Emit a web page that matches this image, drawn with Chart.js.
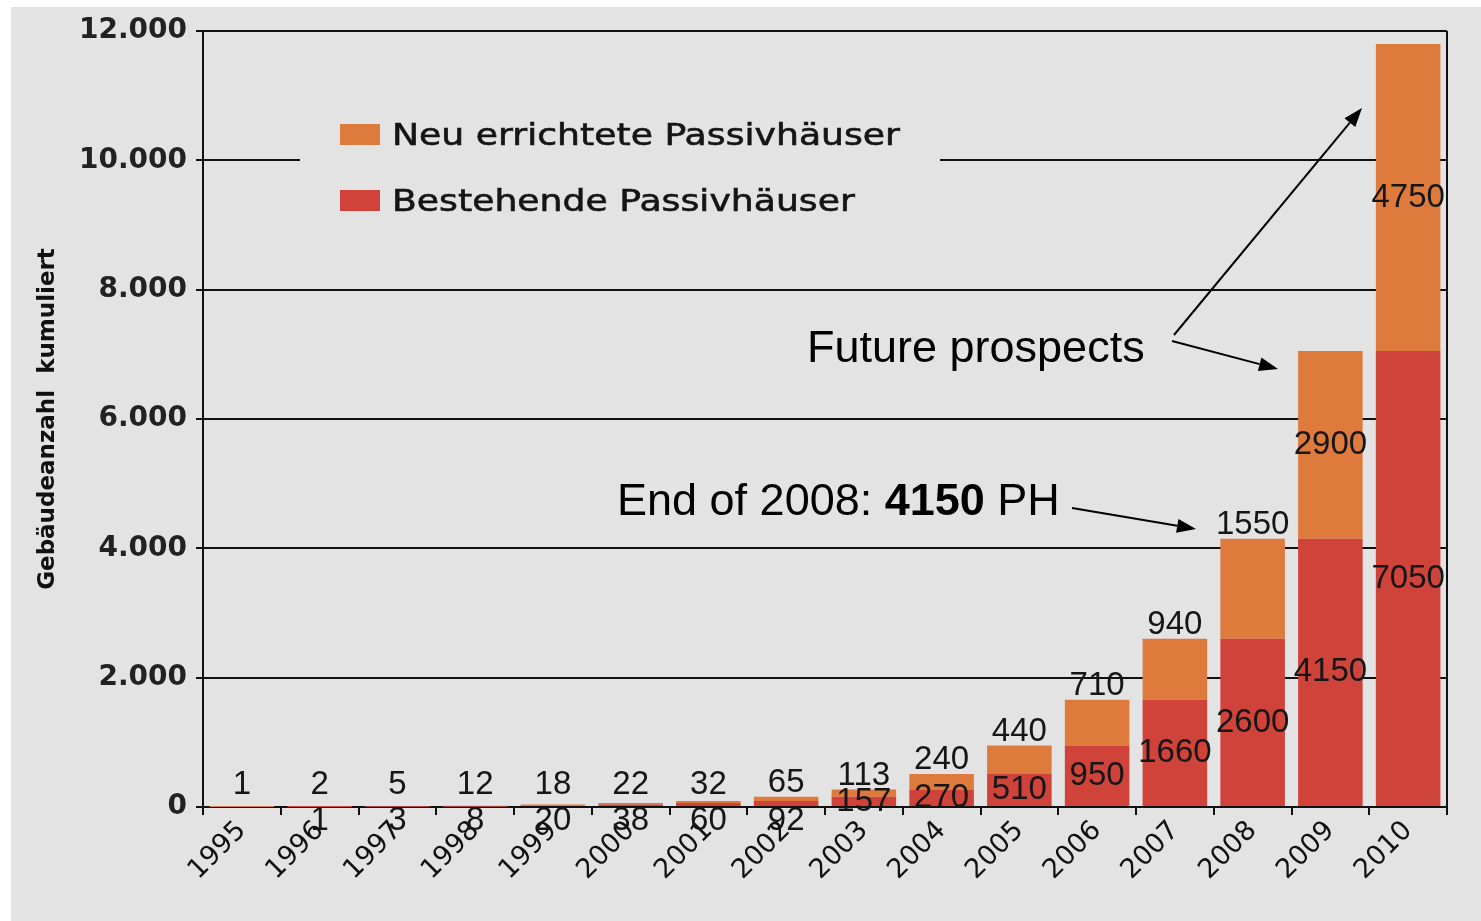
<!DOCTYPE html>
<html><head><meta charset="utf-8">
<script src="https://cdn.jsdelivr.net/npm/chart.js@4.4.1/dist/chart.umd.min.js"></script>
<style>html,body{margin:0;padding:0;background:#fff;overflow:hidden}canvas{display:block}</style>
</head><body>
<canvas id="c" width="1481" height="921"></canvas>
<script>
// ---- data ----
const years = ['1995','1996','1997','1998','1999','2000','2001','2002','2003','2004','2005','2006','2007','2008','2009','2010'];
const existingHouses = [0,1,3,8,20,38,60,92,157,270,510,950,1660,2600,4150,7050];
const newHouses = [1,2,5,12,18,22,32,65,113,240,440,710,940,1550,2900,4750];
const yTickValues = [0,2000,4000,6000,8000,10000,12000];
const seriesNames = ['Bestehende Passivhäuser','Neu errichtete Passivhäuser'];
const yTitle = 'Gebäudeanzahl  kumuliert';

const RED = '#CF433A';
const ORANGE = '#DE7A3B';
const BG = '#E3E3E3';
const INK = '#111111';

function fmt(v){ return String(v).replace(/\B(?=(\d{3})+(?!\d))/g,'.'); }

const bgPlugin = {
  id:'bg',
  beforeDraw(chart){
    const c = chart.ctx;
    c.save();
    c.fillStyle = '#ffffff';
    c.fillRect(0,0,chart.width,chart.height);
    c.fillStyle = BG;
    c.fillRect(11,7,chart.width-11,chart.height-7);
    c.restore();
  }
};

function stretchedText(c, text, x, y, sx){
  c.save();
  c.translate(x,y);
  c.scale(sx,1);
  c.fillText(text,0,0);
  c.lineWidth = 0.6;
  c.strokeText(text,0,0);
  c.restore();
}

const legendPlugin = {
  id:'customLegend',
  beforeDatasetsDraw(chart){
    const c = chart.ctx;
    c.save();
    c.fillStyle = BG;
    c.fillRect(300,100,640,125);
    c.font = '30px "DejaVu Sans", sans-serif';
    c.textBaseline = 'alphabetic';
    c.textAlign = 'left';
    const w = c.measureText(seriesNames[1]).width;
    const sx = 508 / w;
    c.strokeStyle = '#151515';
    c.fillStyle = ORANGE;
    c.fillRect(340,124,40,21);
    c.fillStyle = '#151515';
    stretchedText(c, seriesNames[1], 392, 145, sx);
    c.fillStyle = RED;
    c.fillRect(340,190,40,21);
    c.fillStyle = '#151515';
    stretchedText(c, seriesNames[0], 392, 211, sx);
    c.restore();
  }
};

const labelPlugin = {
  id:'valueLabels',
  afterDatasetsDraw(chart){
    const c = chart.ctx;
    const m0 = chart.getDatasetMeta(0);
    const m1 = chart.getDatasetMeta(1);
    const zeroY = chart.scales.y.getPixelForValue(0);
    c.save();
    c.font = '33px "Liberation Sans", Arial, sans-serif';
    c.fillStyle = '#161616';
    c.textAlign = 'center';
    c.textBaseline = 'middle';
    for (let i=0;i<years.length;i++){
      const b0 = m0.data[i], b1 = m1.data[i];
      if (existingHouses[i] > 0){
        const h = b0.base - b0.y;
        const y = h >= 5 ? (b0.y + b0.base)/2 : zeroY + 14;
        c.fillText(String(existingHouses[i]), b0.x, y);
      }
      const h1 = b1.base - b1.y;
      let y1;
      if (h1 > 150) y1 = (b1.y + b1.base)/2;
      else y1 = Math.min(b1.y - 14, zeroY - 22);
      c.fillText(String(newHouses[i]), b1.x, y1);
    }
    c.restore();
  }
};

function arrow(c, x1,y1,x2,y2){
  const ang = Math.atan2(y2-y1,x2-x1);
  const L = 19, W = 7;
  const bx = x2 - L*Math.cos(ang), by = y2 - L*Math.sin(ang);
  c.beginPath();
  c.moveTo(x1,y1);
  c.lineTo(bx,by);
  c.stroke();
  c.beginPath();
  c.moveTo(x2,y2);
  c.lineTo(bx + W*Math.sin(ang), by - W*Math.cos(ang));
  c.lineTo(bx - W*Math.sin(ang), by + W*Math.cos(ang));
  c.closePath();
  c.fill();
}

const annotPlugin = {
  id:'annotations',
  afterDraw(chart){
    const c = chart.ctx;
    const a = chart.chartArea;
    c.save();
    c.strokeStyle = INK;
    c.lineWidth = 2;
    c.beginPath();
    c.moveTo(a.right, a.top);
    c.lineTo(a.right, a.bottom);
    c.stroke();
    c.fillStyle = '#000';
    c.textAlign = 'left';
    c.textBaseline = 'alphabetic';
    c.font = '45px "Liberation Sans", Arial, sans-serif';
    c.fillText('Future prospects', 807, 362);
    let x = 617;
    const p1 = 'End of 2008: ';
    c.fillText(p1, x, 515);
    x += c.measureText(p1).width;
    c.font = 'bold 45px "Liberation Sans", Arial, sans-serif';
    c.fillText('4150', x, 515);
    x += c.measureText('4150').width;
    c.font = '45px "Liberation Sans", Arial, sans-serif';
    c.fillText(' PH', x, 515);
    c.strokeStyle = '#000';
    c.fillStyle = '#000';
    c.lineWidth = 2;
    arrow(c, 1174, 335, 1362, 108);
    arrow(c, 1172, 341, 1278, 369);
    arrow(c, 1072, 508, 1196, 529);
    c.restore();
  }
};

new Chart(document.getElementById('c'), {
  type:'bar',
  data:{
    labels: years,
    datasets:[
      {label: seriesNames[0], data: existingHouses, backgroundColor: RED, borderWidth:0, barPercentage:0.83, categoryPercentage:1.0},
      {label: seriesNames[1], data: newHouses, backgroundColor: ORANGE, borderWidth:0, barPercentage:0.83, categoryPercentage:1.0}
    ]
  },
  options:{
    responsive:false,
    animation:false,
    devicePixelRatio:1,
    layout:{padding:{left:11, top:31, right:34, bottom:0}},
    plugins:{legend:{display:false}, tooltip:{enabled:false}},
    scales:{
      x:{
        stacked:true,
        grid:{display:true, drawOnChartArea:false, drawTicks:true, tickLength:8, color:INK, lineWidth:2, offset:true},
        border:{display:true, color:INK, width:2},
        ticks:{color:INK, font:{family:'"DejaVu Sans", sans-serif', size:27}, maxRotation:45, minRotation:45, padding:0, autoSkip:false},
        afterFit(s){ s.height = 114; }
      },
      y:{
        stacked:true,
        min:0, max:12000,
        afterBuildTicks(s){ s.ticks = yTickValues.map(v=>({value:v})); },
        grid:{color:INK, lineWidth:2, tickLength:7, drawTicks:true},
        border:{display:true, color:INK, width:2},
        ticks:{color:'#222', font:{family:'"DejaVu Sans", sans-serif', size:28, weight:'bold'}, padding:9, callback:(v)=>fmt(v)},
        title:{display:true, text:yTitle, color:'#111', font:{family:'"DejaVu Sans", sans-serif', size:23, weight:'bold'}, padding:{top:23,bottom:0}},
        afterFit(s){ s.width = 192; }
      }
    }
  },
  plugins:[bgPlugin, legendPlugin, labelPlugin, annotPlugin]
});
</script>
</body></html>
